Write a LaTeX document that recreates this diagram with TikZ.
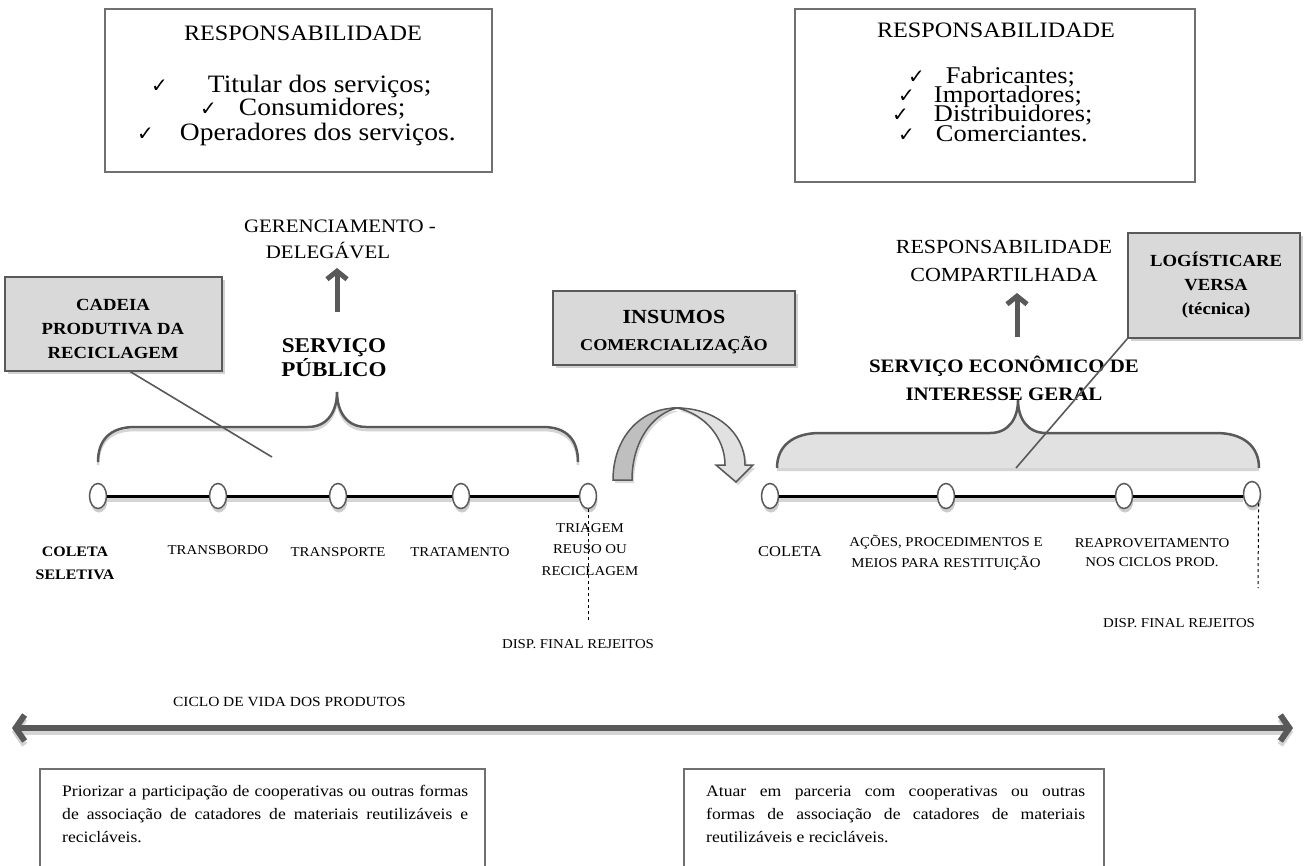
\documentclass[tikz,border=0pt]{standalone}
\usepackage{fontspec}
\setmainfont{Liberation Serif}[FakeStretch=1.1]
\newfontfamily\symfont{DejaVu Sans}
\usetikzlibrary{arrows.meta,shapes.geometric,shadows,calc}
\definecolor{dg}{HTML}{595959}
\definecolor{bx}{HTML}{707070}
\definecolor{cf}{HTML}{D9D9D9}
\definecolor{bf}{HTML}{E1E1E1}
\definecolor{sh}{HTML}{D4D4D4}
\definecolor{cl}{HTML}{BFBFBF}
\newcommand{\fsz}[2]{\fontsize{#1bp}{#2bp}\selectfont}
\newcommand{\ck}{{\symfont\fsz{20}{20}✓}}
\begin{document}
\begin{tikzpicture}[x=1bp,y=-1bp,
  topbox/.style={draw=bx,line width=1.5bp,fill=white,inner sep=0},
  callout/.style={draw=dg,line width=1.6bp,fill=cf,inner sep=0,
     drop shadow={shadow xshift=3bp,shadow yshift=-3bp,fill=black,opacity=.18}},
  txt/.style={inner sep=0,anchor=base west},
  ctr/.style={inner sep=0,anchor=base},
  lbl/.style={inner sep=0,anchor=base,font=\fsz{13.5}{16}},
  dot/.style={ellipse,draw=dg,line width=1.5bp,fill=white,minimum width=17bp,
     minimum height=25bp,inner sep=0,
     drop shadow={shadow xshift=1bp,shadow yshift=-4bp,fill=black,opacity=.2}},
  bigarrow/.style={draw=dg,line width=5bp,-{Straight Barb[length=8bp,width=20bp]}},
  lead/.style={draw=dg,line width=1.6bp},
  tline/.style={draw=black,line width=3bp},
  tshadow/.style={draw=sh,line width=4bp,transform canvas={yshift=-4bp}},
  lbrace/.style={insert path={(98,462) .. controls (98,440) and (110,427) .. (135,427)
     -- (308,427) .. controls (327,427) and (337,412) .. (337,392)
     .. controls (337,412) and (347,427) .. (366,427) -- (543,427)
     .. controls (567,427) and (578,440) .. (578,462)}},
  rbrace/.style={insert path={(777,468) .. controls (777,446) and (793,433) .. (820,433)
     -- (990,433) .. controls (1009,433) and (1018,418) .. (1018,400)
     .. controls (1018,418) and (1027,433) .. (1046,433) -- (1216,433)
     .. controls (1243,433) and (1259,446) .. (1259,468)}}
]
\useasboundingbox (0,0) rectangle (1307,865);
\fill[white] (0,0) rectangle (1307,865);

% ---------- top left box
\node[topbox,minimum width=387bp,minimum height=163bp] (tl) at (298.5,90.5) {};
\node[ctr,font=\fsz{22}{22}] (tlt) at (303,40) {RESPONSABILIDADE};
\node[txt,font=\fsz{25}{25}] (tl1) at (151,92) {\ck\hspace{40bp}Titular dos serviços;};
\node[txt,font=\fsz{25}{25}] (tl2) at (200,115) {\ck\hspace{22bp}Consumidores;};
\node[txt,font=\fsz{25}{25}] (tl3) at (137,140) {\ck\hspace{26bp}Operadores dos serviços.};

% ---------- top right box
\node[topbox,minimum width=400bp,minimum height=173bp] (tr) at (995,95.5) {};
\node[ctr,font=\fsz{22}{22}] (trt) at (996,37) {RESPONSABILIDADE};
\node[txt,font=\fsz{24}{24}] (tr1) at (908,83) {\ck\hspace{21bp}Fabricantes;};
\node[txt,font=\fsz{24}{24}] (tr2) at (898,102) {\ck\hspace{19bp}Importadores;};
\node[txt,font=\fsz{24}{24}] (tr3) at (892,121) {\ck\hspace{25bp}Distribuidores;};
\node[txt,font=\fsz{24}{24}] (tr4) at (898,141) {\ck\hspace{21bp}Comerciantes.};

% ---------- left middle
\node[ctr,font=\fsz{19}{19}] (ger1) at (340,232) {GERENCIAMENTO -};
\node[ctr,font=\fsz{19}{19}] (ger2) at (328,258) {DELEGÁVEL};
\node[ctr,font=\bfseries\fsz{21}{21}] (sp1) at (334,352) {SERVIÇO};
\node[ctr,font=\bfseries\fsz{21}{21}] (sp2) at (334,376) {PÚBLICO};
\coordinate (a1) at (337,312);
\coordinate (a2) at (337,268);
\draw[bigarrow] (a1) -- (a2);

\node[callout,minimum width=217bp,minimum height=94bp] (cad) at (113.5,324) {};
\node[ctr,font=\bfseries\fsz{17}{17}] (cad1) at (113,310) {CADEIA};
\node[ctr,font=\bfseries\fsz{17}{17}] (cad2) at (113,334) {PRODUTIVA DA};
\node[ctr,font=\bfseries\fsz{17}{17}] (cad3) at (113,358) {RECICLAGEM};

% left brace
\draw[sh,line width=2.5bp,transform canvas={yshift=-3bp},lbrace];
\draw[dg,line width=2.5bp,lbrace];
\coordinate (cadtip) at (272,457);
\draw[lead] ($(cad.south)+(17,0)$) -- (cadtip);

% ---------- centre
\node[callout,minimum width=242bp,minimum height=74bp] (ins) at (674,328) {};
\node[ctr,font=\bfseries\fsz{20}{20}] (ins1) at (674,323) {INSUMOS};
\node[ctr,font=\bfseries\fsz{16.5}{16.5}] (ins2) at (674,350) {COMERCIALIZAÇÃO};

\path[fill=cl,draw=dg,line width=1.5bp,
  drop shadow={shadow xshift=2bp,shadow yshift=-3bp,fill=black,opacity=.15}]
  (613,480) .. controls (613,438) and (640,408) .. (677,408)
  .. controls (652,414) and (632,442) .. (632,480) -- cycle;
\path[fill=bf,draw=dg,line width=1.5bp,
  drop shadow={shadow xshift=2bp,shadow yshift=-3bp,fill=black,opacity=.15}]
  (677,408) .. controls (715,408) and (745,432) .. (745,465) -- (753,465)
  -- (736,482) -- (716,465) -- (725,465)
  .. controls (725,438) and (705,414) .. (677,408) -- cycle;

% ---------- right middle
\node[ctr,font=\fsz{20}{20}] (rc1) at (1004,253) {RESPONSABILIDADE};
\node[ctr,font=\fsz{20}{20}] (rc2) at (1004,281) {COMPARTILHADA};
\coordinate (b1) at (1017,337);
\coordinate (b2) at (1017,293);
\draw[bigarrow] (b1) -- (b2);
\node[ctr,font=\bfseries\fsz{19}{19}] (se1) at (1004,372) {SERVIÇO ECONÔMICO DE};
\node[ctr,font=\bfseries\fsz{19}{19}] (se2) at (1004,400) {INTERESSE GERAL};

\fill[sh,transform canvas={yshift=-3bp},rbrace] -- cycle;
\fill[bf,rbrace] -- cycle;
\draw[dg,line width=2.5bp,rbrace];

\node[callout,minimum width=172bp,minimum height=105bp] (log) at (1214,285.5) {};
\node[ctr,font=\bfseries\fsz{17}{17}] (log1) at (1216,266) {LOGÍSTICARE};
\node[ctr,font=\bfseries\fsz{17}{17}] (log2) at (1216,290) {VERSA};
\node[ctr,font=\bfseries\fsz{17}{17}] (log3) at (1216,314) {(técnica)};
\coordinate (logtip) at (1016,468);
\draw[lead] (log.south west) -- (logtip);

% ---------- timelines
\node[dot] (l1) at (98,496) {};
\node[dot] (l2) at (218,496) {};
\node[dot] (l3) at (338,496) {};
\node[dot] (l4) at (461,496) {};
\node[dot] (l5) at (588,496) {};
\foreach \a/\b in {l1/l2,l2/l3,l3/l4,l4/l5}{
  \draw[tshadow] (\a.east) -- (\b.west);
  \draw[tline] (\a.east) -- (\b.west);}
\node[dot] (r1) at (770,496) {};
\node[dot] (r2) at (946,496) {};
\node[dot] (r3) at (1124,496) {};
\node[dot] (r4) at (1252,494) {};
\foreach \a/\b in {r1/r2,r2/r3}{
  \draw[tshadow] (\a.east) -- (\b.west);
  \draw[tline] (\a.east) -- (\b.west);}
\draw[tshadow] (r3.east) -- (r3.east -| r4.west);
\draw[tline] (r3.east) -- (r3.east -| r4.west);

\coordinate (dl) at (588,620);
\draw[dashed,line width=1bp] (l5.south) -- (dl);
\coordinate (dr) at (1258,588);
\draw[dashed,line width=1bp] (r4.south east) -- (dr);

% labels left
\node[lbl,font=\bfseries\fsz{14.5}{16}] (la1) at (75,556) {COLETA};
\node[lbl,font=\bfseries\fsz{14.5}{16}] (la2) at (75,579) {SELETIVA};
\node[lbl] (lb) at (218,554) {TRANSBORDO};
\node[lbl] (lc) at (338,556) {TRANSPORTE};
\node[lbl] (ld) at (460,556) {TRATAMENTO};
\node[lbl] (le1) at (590,532) {TRIAGEM};
\node[lbl] (le2) at (590,553) {REUSO OU};
\node[lbl] (le3) at (590,575) {RECICLAGEM};
\node[lbl] (lf) at (578,648) {DISP. FINAL REJEITOS};
% labels right
\node[lbl,font=\fsz{15}{16}] (ra) at (790,556) {COLETA};
\node[lbl] (rb1) at (946,546) {AÇÕES, PROCEDIMENTOS E};
\node[lbl] (rb2) at (946,567) {MEIOS PARA RESTITUIÇÃO};
\node[lbl] (rc1b) at (1152,547) {REAPROVEITAMENTO};
\node[lbl] (rc2b) at (1152,566) {NOS CICLOS PROD.};
\node[lbl] (rd) at (1179,627) {DISP. FINAL REJEITOS};

% ---------- life cycle arrow
\node[inner sep=0,anchor=base west,font=\fsz{14}{16}] (cic) at (173,706) {CICLO DE VIDA DOS PRODUTOS};
\coordinate (cL) at (12,728);
\coordinate (cR) at (1293,728);
\draw[draw=sh,line width=6bp,transform canvas={yshift=-4bp},
  {Straight Barb[length=9bp,width=26bp]}-{Straight Barb[length=9bp,width=26bp]}] (cL) -- (cR);
\draw[draw=dg,line width=6bp,
  {Straight Barb[length=9bp,width=26bp]}-{Straight Barb[length=9bp,width=26bp]}] (cL) -- (cR);

% ---------- bottom boxes
\draw[bx,line width=1.5bp] (40,866) -- (40,769) -- (485,769) -- (485,866);
\node[txt,font=\fsz{16}{16}] (p1) at (62,796) {\makebox[406bp][s]{Priorizar a participação de cooperativas ou outras formas}};
\node[txt,font=\fsz{16}{16}] (p2) at (62,819) {\makebox[406bp][s]{de associação de catadores de materiais reutilizáveis e}};
\node[txt,font=\fsz{16}{16}] (p3) at (62,842) {recicláveis.};

\draw[bx,line width=1.5bp] (684,866) -- (684,769) -- (1104,769) -- (1104,866);
\node[txt,font=\fsz{16}{16}] (q1) at (706,796) {\makebox[379bp][s]{Atuar em parceria com cooperativas ou outras}};
\node[txt,font=\fsz{16}{16}] (q2) at (706,819) {\makebox[379bp][s]{formas de associação de catadores de materiais}};
\node[txt,font=\fsz{16}{16}] (q3) at (706,842) {reutilizáveis e recicláveis.};
\end{tikzpicture}
\end{document}
